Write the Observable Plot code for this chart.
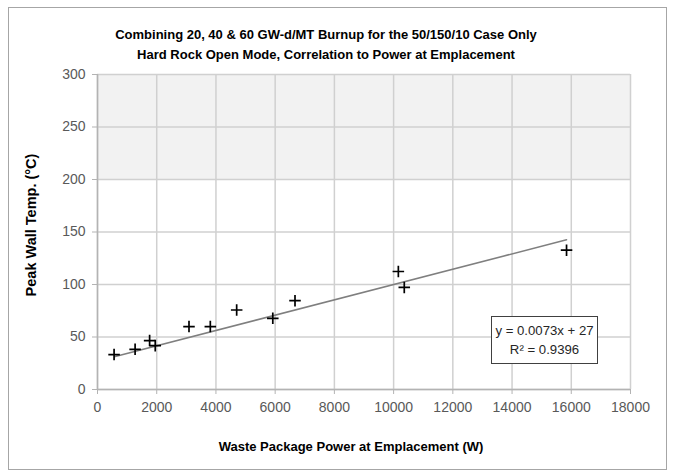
<!DOCTYPE html>
<html><head><meta charset="utf-8">
<script src="https://cdn.jsdelivr.net/npm/d3@7"></script>
<script src="https://cdn.jsdelivr.net/npm/@observablehq/plot@0.6"></script>
<style>
body{margin:0;background:#fff;}
#wrap{position:relative;width:674px;height:472px;font-family:"Liberation Sans",Arial,sans-serif;}
#wrap svg{position:absolute;left:0;top:0;}
#frame{position:absolute;left:8px;top:7px;width:659px;height:463px;border:1px solid #a6a6a6;box-sizing:border-box;pointer-events:none}
#eq{position:absolute;left:491px;top:316px;width:107px;height:48px;border:1.5px solid #404040;background:#fff;box-sizing:border-box;text-align:center;font-size:13.2px;line-height:19px;padding-top:4px;color:#262626;white-space:nowrap}
</style></head><body><div id="wrap"><div id="frame"></div></div>
<script>
const power = [560, 1270, 1760, 1950, 3090, 3810, 4700, 5920, 6670, 10160, 10360, 15840];
const temp = [33.3, 38.3, 46.6, 41.8, 59.9, 59.9, 75.7, 67.8, 84.6, 112.4, 97.2, 132.7];
const trendPower = [600, 15840];
const trendTemp = [31.4, 142.6];
const bandTemp = [200, 300];
const xTicks = [0, 2000, 4000, 6000, 8000, 10000, 12000, 14000, 16000, 18000];
const yTicks = [0, 50, 100, 150, 200, 250, 300];
const titleLines = ["Combining 20, 40 & 60 GW-d/MT Burnup for the 50/150/10 Case Only",
                    "Hard Rock Open Mode, Correlation to Power at Emplacement"];
const xTitle = "Waste Package Power at Emplacement (W)";
const yTitle = "Peak Wall Temp. (°C)";
const eqLines = ["y = 0.0073x + 27", "R² = 0.9396"];

const points = power.map((p, i) => ({power: p, temp: temp[i]}));
const trend = trendPower.map((p, i) => ({power: p, temp: trendTemp[i]}));
const font = '"Liberation Sans",Arial,sans-serif';

const chart = Plot.plot({
  width: 674, height: 472,
  marginLeft: 97, marginRight: 44, marginTop: 74, marginBottom: 83,
  style: {fontFamily: font, fontSize: "14px", color: "#595959", background: "transparent"},
  x: {domain: [0, 18000], label: null},
  y: {domain: [0, 300], label: null},
  marks: [
    Plot.rect([{y1: bandTemp[0], y2: bandTemp[1]}], {y1: "y1", y2: "y2", fill: "#f2f2f2"}),
    Plot.gridX(xTicks, {stroke: "#d0d0d0", strokeOpacity: 1, strokeWidth: 1.5}),
    Plot.gridY(yTicks, {stroke: "#d0d0d0", strokeOpacity: 1, strokeWidth: 1.5}),
    Plot.axisX(xTicks, {tickSize: 5, tickPadding: 8, stroke: "#b3b3b3", fill: "#595959", tickFormat: d => String(d), label: null}),
    Plot.axisY(yTicks, {tickSize: 5, tickPadding: 7, stroke: "#b3b3b3", fill: "#595959", label: null}),
    Plot.ruleX([0], {stroke: "#b3b3b3", strokeWidth: 1.5}),
    Plot.ruleY([0], {stroke: "#b3b3b3", strokeWidth: 1.5}),
    Plot.line(trend, {x: "power", y: "temp", stroke: "#7f7f7f", strokeWidth: 1.5}),
    Plot.dot(points, {x: "power", y: "temp", symbol: "plus", r: 3.8, stroke: "#000", strokeWidth: 1.7}),
    Plot.text([titleLines[0]], {frameAnchor: "top", lineAnchor: "middle", dx: -38, dy: -40, fontWeight: "bold", fontSize: 13, fill: "#000"}),
    Plot.text([titleLines[1]], {frameAnchor: "top", lineAnchor: "middle", dx: -38, dy: -20, fontWeight: "bold", fontSize: 13, fill: "#000"}),
    Plot.text([xTitle], {frameAnchor: "bottom", lineAnchor: "middle", dx: -13, dy: 57, fontWeight: "bold", fontSize: 13, fill: "#000"}),
    Plot.text([yTitle], {frameAnchor: "left", textAnchor: "middle", lineAnchor: "middle", dx: -66, dy: -7, rotate: -90, fontWeight: "bold", fontSize: 14.5, fill: "#000"})
  ]
});
const wrap = document.getElementById("wrap");
wrap.insertBefore(chart, wrap.firstChild);
const eq = document.createElement("div");
eq.id = "eq";
eq.innerHTML = eqLines.join("<br>");
wrap.appendChild(eq);
</script>
</body></html>
